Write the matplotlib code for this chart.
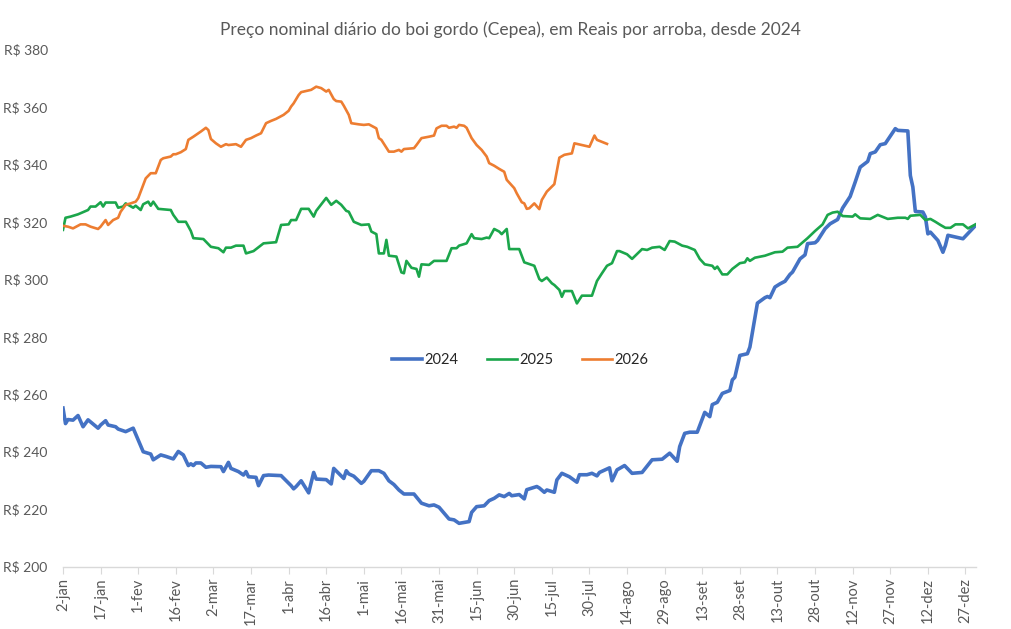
import matplotlib
matplotlib.use("Agg")
import matplotlib.pyplot as plt

plt.rcParams['font.family'] = ['Lato', 'DejaVu Sans']

# dias contados a partir de 2-jan (0 = 2-jan, 364 = 31-dez)
tick_labels = ['2-jan', '17-jan', '1-fev', '16-fev', '2-mar', '17-mar', '1-abr', '16-abr',
               '1-mai', '16-mai', '31-mai', '15-jun', '30-jun', '15-jul', '30-jul', '14-ago',
               '29-ago', '13-set', '28-set', '13-out', '28-out', '12-nov', '27-nov', '12-dez',
               '27-dez']

dias_2024 = [0, 1, 2, 4, 6, 8, 10, 14, 15, 17, 18, 21, 22, 25, 28, 32, 35, 36, 39, 41,
             44, 46, 48, 50, 51, 52, 53, 55, 57, 59, 63, 64, 66, 67, 70, 72, 73, 74, 77, 78,
             80, 82, 87, 91, 92, 93, 95, 98, 100, 101, 105, 107, 108, 112, 113, 114, 116, 119, 120, 123,
             126, 128, 130, 132, 134, 136, 140, 143, 146, 148, 150, 154, 156, 158, 162, 163, 165, 168, 170, 172,
             174, 176, 178, 179, 182, 184, 185, 189, 190, 192, 193, 196, 197, 199, 202, 205, 206, 209, 211, 213,
             214, 218, 219, 221, 224, 227, 231, 235, 239, 242, 245, 246, 248, 250, 253, 256, 258, 259, 261, 263,
             266, 267, 268, 270, 273, 274, 277, 280, 281, 282, 284, 286, 288, 290, 291, 294, 296, 297, 300, 301,
             304, 306, 309, 311, 314, 316, 318, 321, 322, 324, 326, 328, 332, 333, 337, 338, 339, 340, 343, 344,
             345, 346, 349, 351, 352, 353, 359, 364]
preco_2024 = [255.2, 249.8, 251.2, 251.0, 252.6, 248.7, 251.1, 248.2, 249.3, 250.8, 249.3, 248.7, 247.9, 247.0, 248.2, 240.0, 239.2, 237.2, 238.9, 238.4,
              237.5, 240.1, 238.9, 235.2, 235.8, 235.2, 236.1, 236.1, 234.6, 234.9, 234.8, 233.1, 236.3, 234.2, 233.1, 231.9, 233.1, 231.3, 231.1, 228.2,
              231.7, 231.9, 231.7, 228.2, 227.1, 227.9, 229.9, 225.7, 232.8, 230.5, 230.3, 228.8, 234.2, 230.7, 233.4, 232.3, 231.5, 229.0, 229.7, 233.4,
              233.4, 232.5, 229.9, 228.6, 226.7, 225.3, 225.3, 222.1, 221.2, 221.5, 220.7, 216.6, 216.3, 215.1, 215.7, 218.9, 220.9, 221.2, 223.0, 223.8,
              225.0, 224.4, 225.5, 224.7, 225.1, 223.6, 226.8, 227.9, 227.4, 225.9, 226.7, 225.9, 230.2, 232.5, 231.3, 229.4, 232.0, 232.0, 232.5, 231.6,
              232.8, 234.4, 229.9, 233.7, 235.2, 232.5, 232.8, 237.2, 237.4, 239.5, 236.7, 241.8, 246.4, 246.8, 246.8, 253.7, 252.2, 256.4, 257.2, 260.3,
              261.3, 265.0, 265.9, 273.5, 274.1, 276.4, 291.7, 293.6, 294.0, 293.6, 297.3, 298.4, 299.3, 301.7, 302.5, 307.1, 308.5, 312.4, 312.7, 313.5,
              317.6, 319.3, 320.8, 324.8, 328.8, 333.8, 339.0, 341.0, 343.7, 344.3, 346.8, 347.2, 352.4, 351.8, 351.6, 336.1, 332.1, 323.6, 323.4, 321.7,
              315.8, 316.4, 313.5, 309.4, 311.8, 315.3, 314.1, 318.7]

dias_2025 = [0, 1, 3, 6, 10, 11, 13, 15, 16, 17, 21, 22, 24, 25, 28, 29, 31, 32, 34, 35,
             36, 38, 43, 44, 46, 49, 51, 52, 56, 59, 62, 64, 65, 67, 69, 72, 73, 76, 80, 85,
             87, 90, 91, 93, 95, 98, 100, 101, 105, 107, 109, 111, 113, 114, 116, 119, 122, 123, 125, 126,
             128, 129, 130, 133, 135, 136, 137, 139, 141, 142, 143, 146, 148, 153, 155, 157, 158, 161, 163, 164,
             167, 169, 170, 172, 174, 175, 177, 178, 182, 184, 187, 188, 190, 191, 193, 195, 196, 198, 199, 200,
             203, 205, 207, 211, 213, 215, 217, 219, 221, 222, 225, 227, 231, 233, 235, 238, 240, 242, 244, 247,
             249, 252, 254, 256, 259, 260, 261, 263, 265, 267, 270, 272, 273, 274, 276, 280, 284, 287, 289, 293,
             297, 300, 303, 305, 307, 309, 311, 315, 316, 318, 322, 325, 329, 333, 336, 337, 338, 342, 344, 346,
             348, 350, 352, 354, 356, 359, 361, 364]
preco_2025 = [317.2, 321.4, 321.8, 322.6, 324.1, 325.3, 325.3, 326.8, 325.3, 326.7, 326.7, 324.9, 325.3, 326.4, 324.9, 325.6, 324.1, 326.1, 327.0, 325.6,
              327.0, 324.5, 324.1, 322.4, 320.0, 320.0, 316.8, 314.3, 314.0, 311.3, 310.8, 309.4, 311.0, 311.0, 311.7, 311.7, 309.0, 309.8, 312.5, 312.9,
              318.9, 319.1, 320.6, 320.6, 324.5, 324.5, 321.8, 323.8, 328.3, 325.9, 327.3, 325.9, 323.8, 323.5, 320.0, 318.9, 319.1, 316.6, 315.7, 309.0,
              309.0, 313.7, 308.2, 307.9, 302.4, 302.1, 306.4, 304.0, 303.6, 300.9, 305.2, 305.0, 306.4, 306.4, 310.8, 310.8, 311.7, 312.5, 315.7, 314.3,
              314.0, 314.5, 314.3, 317.5, 316.6, 315.7, 317.5, 310.5, 310.5, 305.9, 305.0, 304.7, 300.1, 299.4, 300.6, 298.6, 298.0, 296.3, 293.9, 295.9,
              295.9, 291.6, 294.3, 294.3, 299.4, 302.1, 304.7, 305.6, 309.8, 309.8, 308.7, 307.1, 310.5, 310.2, 311.0, 311.3, 310.2, 313.3, 313.1, 311.7,
              311.3, 310.2, 307.1, 305.2, 304.7, 303.6, 304.4, 301.7, 301.7, 303.6, 305.6, 305.9, 307.3, 306.4, 307.5, 308.2, 309.4, 309.6, 311.0, 311.3,
              314.3, 316.8, 319.1, 322.4, 323.2, 323.5, 322.0, 321.8, 322.6, 321.2, 321.0, 322.4, 321.0, 321.4, 321.4, 321.0, 322.1, 322.4, 320.6, 321.0,
              320.0, 318.9, 317.9, 317.9, 319.1, 319.1, 317.7, 319.1]

dias_2026 = [0, 2, 4, 7, 9, 11, 14, 15, 17, 18, 20, 22, 23, 25, 27, 29, 30, 32, 33, 35,
             37, 39, 40, 43, 44, 45, 47, 49, 50, 52, 55, 57, 58, 59, 61, 63, 65, 66, 69, 71,
             73, 75, 77, 79, 81, 83, 85, 88, 90, 91, 92, 94, 95, 99, 101, 103, 105, 106, 108, 109,
             111, 112, 114, 115, 118, 120, 122, 125, 126, 127, 130, 132, 134, 135, 136, 140, 141, 143, 146, 148,
             149, 151, 153, 154, 156, 157, 158, 160, 161, 163, 165, 167, 169, 170, 172, 174, 176, 177, 180, 181,
             183, 184, 185, 186, 188, 190, 191, 193, 196, 198, 200, 203, 204, 207, 210, 212, 213, 217]
preco_2026 = [318.6, 318.3, 317.7, 319.1, 319.1, 318.3, 317.5, 318.3, 320.6, 318.9, 320.6, 321.4, 323.5, 325.9, 326.4, 327.0, 328.2, 332.8, 335.1, 336.9,
              336.9, 341.5, 342.1, 342.7, 343.5, 343.5, 344.2, 345.3, 348.5, 349.6, 351.4, 352.7, 351.9, 348.8, 347.3, 346.1, 347.0, 346.7, 347.0, 346.1,
              348.5, 349.1, 350.0, 350.8, 354.3, 355.1, 355.8, 357.2, 358.6, 360.1, 361.2, 364.1, 365.1, 365.9, 367.0, 366.5, 365.3, 365.9, 362.7, 362.0,
              361.8, 360.4, 357.2, 354.3, 353.9, 353.7, 353.9, 352.5, 349.1, 348.5, 344.4, 344.4, 345.0, 344.4, 345.3, 345.6, 346.7, 349.1, 349.6, 350.0,
              352.5, 353.4, 353.4, 352.7, 353.1, 352.7, 353.7, 353.4, 352.7, 349.1, 346.7, 345.0, 342.7, 340.4, 339.5, 338.4, 337.4, 334.6, 331.7, 329.9,
              326.8, 326.4, 324.5, 324.7, 326.4, 324.4, 327.6, 330.5, 333.1, 342.3, 343.3, 343.8, 347.3, 346.7, 346.1, 350.0, 348.5, 347.1]

fig = plt.figure(figsize=(10.11, 6.29), dpi=100)
ax = fig.add_axes([0.0623, 0.099, 0.9026, 0.8226])

ax.plot(dias_2024, preco_2024, color='#4472C4', linewidth=2.6, label='2024', solid_joinstyle='round')
ax.plot(dias_2025, preco_2025, color='#1BA64B', linewidth=1.9, label='2025', solid_joinstyle='round')
ax.plot(dias_2026, preco_2026, color='#ED7D31', linewidth=1.9, label='2026', solid_joinstyle='round')

ax.set_xlim(0, 364)
ax.set_ylim(200, 380)
ax.set_yticks(range(200, 381, 20))
ax.set_yticklabels(['R$ %d' % v for v in range(200, 381, 20)])
ax.set_xticks(range(0, 361, 15))
ax.set_xticklabels(tick_labels, rotation=90)

for s in ['top', 'right', 'left']:
    ax.spines[s].set_visible(False)
ax.spines['bottom'].set_color('#d9d9d9')
ax.spines['bottom'].set_linewidth(1.0)
ax.tick_params(axis='y', length=0, pad=11, labelsize=10, labelcolor='#595959')
ax.tick_params(axis='x', length=5, color='#d9d9d9', pad=3, labelsize=10.5, labelcolor='#595959')

fig.text(0.505, 0.952, 'Preço nominal diário do boi gordo (Cepea), em Reais por arroba, desde 2024',
         fontsize=12.5, color='#595959', ha='center', va='center')

leg = ax.legend(loc='center', bbox_to_anchor=(0.501, 0.40), ncol=3, frameon=False,
                fontsize=10.5, handlelength=2.05, columnspacing=2.0, handletextpad=0.15)
for t in leg.get_texts():
    t.set_color('#262626')

fig.savefig('out.png', dpi=100)
